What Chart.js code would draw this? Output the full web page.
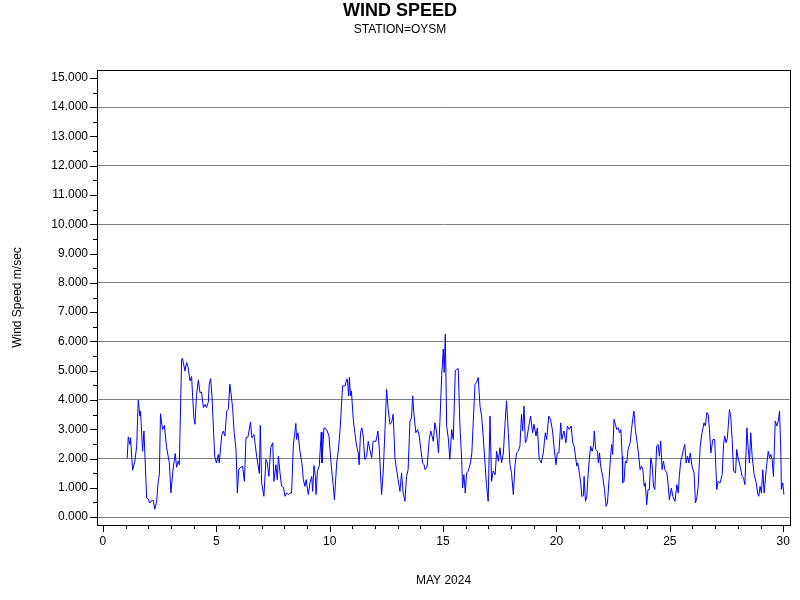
<!DOCTYPE html>
<html>
<head>
<meta charset="utf-8">
<script src="https://cdn.jsdelivr.net/npm/chart.js@4/dist/chart.umd.min.js"></script>
<style>
  html, body { margin: 0; padding: 0; background: #fff; }
  #wrap { width: 800px; height: 600px; }
</style>
</head>
<body>
<div id="wrap"><canvas id="chartWind"></canvas></div>
<script>
  // days of May 2024 (fractional) and wind speed in m/sec
  const days = [
    1.07, 1.12, 1.19, 1.22, 1.31, 1.41, 1.49, 1.56, 1.63, 1.66, 1.75, 1.81, 1.93, 2.0, 2.07, 2.15, 2.22, 2.29, 2.37, 2.44,
    2.49, 2.54, 2.63, 2.71, 2.81, 2.93, 3.0, 3.1, 3.19, 3.25, 3.32, 3.37, 3.47, 3.51, 3.62, 3.69, 3.76, 3.84, 3.91, 4.01,
    4.06, 4.13, 4.21, 4.28, 4.35, 4.43, 4.51, 4.57, 4.65, 4.69, 4.75, 4.81, 4.87, 4.93, 5.01, 5.09, 5.13, 5.24, 5.31, 5.38,
    5.46, 5.53, 5.6, 5.72, 5.79, 5.87, 5.93, 5.99, 6.04, 6.16, 6.24, 6.31, 6.4, 6.51, 6.57, 6.66, 6.78, 6.9, 6.94, 7.0,
    7.1, 7.19, 7.25, 7.32, 7.4, 7.49, 7.54, 7.63, 7.69, 7.74, 7.81, 7.88, 7.96, 8.03, 8.1, 8.18, 8.25, 8.32, 8.4, 8.51,
    8.54, 8.6, 8.69, 8.78, 8.84, 8.91, 8.96, 9.06, 9.13, 9.21, 9.25, 9.31, 9.37, 9.4, 9.46, 9.54, 9.63, 9.66, 9.75, 9.87,
    9.97, 10.06, 10.16, 10.21, 10.31, 10.38, 10.46, 10.57, 10.68, 10.75, 10.78, 10.84, 10.87,
    10.92, 10.96, 11.04, 11.11, 11.19, 11.26, 11.3, 11.36, 11.42, 11.48, 11.55, 11.63, 11.7, 11.77, 11.85, 11.92, 12.04, 12.13, 12.19, 12.29,
    12.36, 12.44, 12.51, 12.58, 12.66, 12.73, 12.8, 12.88, 12.95, 13.02, 13.1, 13.17, 13.24, 13.32, 13.39, 13.46, 13.54, 13.61, 13.66, 13.71,
    13.8, 13.88, 13.95, 14.04, 14.1, 14.16, 14.21, 14.3, 14.39, 14.46, 14.57, 14.64, 14.71, 14.8, 14.86, 14.94, 15.01, 15.05, 15.1, 15.16,
    15.23, 15.3, 15.38, 15.45, 15.54, 15.6, 15.67, 15.74, 15.82, 15.86, 15.92, 15.98, 16.04, 16.11, 16.21, 16.27, 16.33, 16.41, 16.48, 16.55,
    16.63, 16.7, 16.77, 16.85, 16.92, 16.99, 17.07, 17.14, 17.21, 17.3, 17.36, 17.44, 17.51, 17.58, 17.66, 17.74, 17.8, 17.88, 17.95, 18.02,
    18.1, 18.17, 18.24, 18.32, 18.39, 18.46, 18.51, 18.57, 18.63, 18.69, 18.77, 18.86, 18.95, 19.01, 19.1, 19.16, 19.24, 19.33, 19.42, 19.51,
    19.57, 19.66, 19.74, 19.83, 19.89, 19.98, 20.04, 20.11, 20.19, 20.24, 20.33, 20.42, 20.48, 20.57,
    20.65, 20.72, 20.78, 20.85, 20.9, 20.94, 21.01, 21.07, 21.12, 21.19, 21.22, 21.28, 21.34, 21.38, 21.45, 21.51, 21.57, 21.63, 21.67, 21.73,
    21.81, 21.85, 21.9, 21.95, 22.04, 22.12, 22.19, 22.25, 22.32, 22.4, 22.44, 22.48, 22.54, 22.6, 22.66, 22.73, 22.78, 22.84, 22.9, 22.92,
    22.98, 23.04, 23.1, 23.16, 23.25, 23.31, 23.37, 23.42, 23.48, 23.57, 23.63, 23.69, 23.75, 23.81, 23.87, 23.92, 23.98, 24.04, 24.1, 24.16,
    24.22, 24.28, 24.34, 24.42, 24.48, 24.54, 24.6, 24.66, 24.72, 24.78, 24.87, 24.92, 24.98, 25.07, 25.13, 25.23, 25.31, 25.37, 25.42, 25.48,
    25.54, 25.6, 25.66, 25.72, 25.78, 25.84, 25.9, 25.98, 26.07, 26.13, 26.19, 26.25, 26.34, 26.42, 26.51, 26.57, 26.63, 26.69, 26.75, 26.81,
    26.9, 26.98, 27.07, 27.13, 27.22, 27.31, 27.37, 27.42, 27.48, 27.54, 27.63, 27.69, 27.75, 27.81, 27.9, 27.95, 28.01, 28.1, 28.19, 28.25,
    28.31, 28.4, 28.45, 28.51, 28.57, 28.63, 28.72, 28.81, 28.87, 28.92, 28.98, 29.04, 29.1, 29.16, 29.25, 29.34, 29.4, 29.45, 29.51, 29.57,
    29.65, 29.72, 29.78, 29.84, 29.9, 29.92, 29.98, 30.03
  ];
  const speeds = [
    2.0, 2.74, 2.48, 2.71, 1.6, 1.91, 2.42, 3.99, 3.45, 3.62, 2.25, 2.94, 0.65, 0.62, 0.48, 0.57, 0.57, 0.27, 0.54, 1.22,
    1.45, 3.53, 2.99, 3.13, 2.37, 1.85, 0.82, 1.68, 2.17, 1.7, 1.91, 1.79, 5.39, 5.42, 4.99, 5.28, 5.11, 4.65, 4.8, 3.39,
    3.17, 4.19, 4.69, 4.25, 4.27, 3.74, 3.85, 3.74, 3.93, 4.54, 4.73, 4.14, 3.11, 2.08, 1.85, 2.14, 1.85, 2.79, 2.94, 2.77,
    3.62, 3.68, 4.54, 3.74, 2.88, 2.31, 0.82, 1.62, 1.68, 1.74, 1.22, 2.71, 2.74, 3.25, 2.71, 2.82, 2.08, 1.49, 3.13, 1.17,
    0.71, 1.97, 1.85, 1.39, 2.37, 2.54, 1.22, 1.79, 1.28, 2.08, 1.51, 1.05, 1.02, 0.71, 0.82, 0.77, 0.82, 0.82, 2.48, 3.2,
    2.65, 2.88, 2.25, 1.82, 1.28, 1.05, 1.28, 0.77, 1.17, 1.39, 0.88, 1.76, 1.39, 0.77, 1.57, 1.74, 2.9, 1.85, 3.05, 2.99,
    2.77, 1.85, 1.05, 0.59, 1.85, 2.25, 2.99, 4.48, 4.48, 4.71, 4.71, 4.14, 4.77,
    4.14, 4.31, 3.34, 2.88, 2.42, 2.19, 1.79, 2.88, 3.05, 2.77, 1.97, 2.08, 2.59, 2.31, 2.02, 2.59, 2.59, 2.94, 2.31, 0.77,
    1.51, 2.99, 4.37, 3.68, 3.17, 3.22, 3.51, 2.02, 1.62, 1.28, 0.88, 1.51, 0.82, 0.54, 1.39, 1.62, 3.28, 3.39, 4.14, 3.57,
    2.88, 2.99, 2.77, 2.19, 1.85, 1.79, 1.62, 1.74, 2.65, 2.94, 2.59, 3.22, 2.94, 2.19, 3.22, 4.83, 5.74, 4.94, 6.25, 3.11,
    2.71, 1.97, 2.99, 2.65, 4.99, 5.05, 5.07, 3.22, 1.97, 0.99, 1.45, 0.82, 1.51, 1.57, 1.85, 2.19, 3.22, 4.54, 4.59, 4.77,
    3.79, 3.45, 2.77, 1.85, 1.05, 0.54, 3.45, 1.22, 1.57, 1.45, 2.25, 1.91, 2.37, 1.85, 2.19, 3.28, 3.97, 2.88, 1.79, 1.51,
    0.77, 1.74, 2.19, 2.25, 2.42, 3.51, 2.94, 3.79, 2.54, 2.65, 3.05, 3.45, 2.88, 3.17, 2.77, 3.05, 1.97, 1.85, 2.19, 2.88,
    2.65, 3.45, 3.34, 2.94, 2.42, 1.79, 2.19, 2.19, 3.22, 2.65, 2.94, 2.54, 3.11, 2.99,
    3.11, 2.54, 2.42, 2.02, 1.74, 1.85, 1.51, 1.17, 0.71, 0.73, 1.39, 0.54, 0.71, 1.28, 1.97, 2.42, 2.25, 2.42, 2.94, 2.31,
    2.25, 1.85, 2.19, 1.74, 1.39, 0.94, 0.37, 0.48, 1.28, 2.19, 2.48, 2.14, 3.34, 3.17, 2.99, 3.05, 2.88, 2.99, 2.08, 1.17,
    1.22, 1.91, 1.85, 2.31, 2.54, 2.99, 3.39, 3.62, 2.99, 2.48, 2.08, 1.62, 1.74, 1.62, 1.05, 1.17, 0.42, 0.94, 0.94, 2.02,
    1.79, 1.05, 0.94, 2.42, 2.48, 2.08, 2.59, 1.62, 1.91, 1.62, 1.51, 1.17, 0.59, 0.99, 0.71, 0.54, 1.11, 0.82, 1.39, 1.91,
    2.08, 2.31, 2.48, 1.85, 2.08, 1.85, 2.19, 1.74, 1.51, 0.48, 0.65, 1.05, 2.42, 2.88, 3.22, 3.11, 3.57, 3.51, 2.99, 2.19,
    2.65, 2.65, 0.94, 1.22, 1.17, 1.45, 2.48, 2.77, 2.54, 2.71, 3.68, 3.39, 2.65, 1.57, 1.51, 2.31, 2.02, 1.74, 1.39, 1.34,
    1.11, 3.05, 2.42, 1.85, 2.88, 2.08, 1.45, 1.17, 0.82, 0.71, 1.05, 0.82, 1.62, 0.82, 1.62, 2.25, 2.02, 2.14, 1.97, 1.39,
    3.28, 3.11, 3.28, 3.62, 2.08, 0.94, 1.17, 0.77
  ];
  const xTickLabels = [0, 5, 10, 15, 20, 25, 30];
  const yTickLabels = [0, 1, 2, 3, 4, 5, 6, 7, 8, 9, 10, 11, 12, 13, 14, 15];

  const points = days.map((d, i) => ({ x: d, y: speeds[i] }));
  const FONT = "Arial, 'Liberation Sans', sans-serif";

  // titles, frame, axis ticks and axis titles
  const decor = {
    id: "decor",
    afterDraw(chart) {
      const ctx = chart.ctx;
      const a = chart.chartArea;
      const xs = chart.scales.x;
      const ys = chart.scales.y;
      ctx.save();
      ctx.strokeStyle = "#000";
      ctx.lineWidth = 1;
      ctx.strokeRect(a.left + 0.5, a.top + 0.5, a.right - a.left, a.bottom - a.top);

      ctx.beginPath();
      for (let d = 0; d <= 30; d++) {
        const px = Math.round(xs.getPixelForValue(d)) + 0.5;
        ctx.moveTo(px, a.bottom);
        ctx.lineTo(px, a.bottom + (d % 5 === 0 ? 7 : 4));
      }
      yTickLabels.forEach((v) => {
        const py = Math.round(ys.getPixelForValue(v)) + 0.5;
        ctx.moveTo(a.left, py);
        ctx.lineTo(a.left - 7, py);
      });
      for (let v = 0.5; v < 15.2; v += 1) {
        const py = Math.round(ys.getPixelForValue(v)) + 0.5;
        ctx.moveTo(a.left, py);
        ctx.lineTo(a.left - 4, py);
      }
      ctx.stroke();

      ctx.fillStyle = "#000";
      ctx.font = "12px " + FONT;
      ctx.textAlign = "center";
      ctx.textBaseline = "top";
      xTickLabels.forEach((d) => ctx.fillText(String(d), xs.getPixelForValue(d), a.bottom + 11));
      ctx.textAlign = "right";
      ctx.textBaseline = "middle";
      yTickLabels.forEach((v) => ctx.fillText(v.toFixed(3), a.left - 9, ys.getPixelForValue(v)));

      ctx.textAlign = "center";
      ctx.fillText("MAY 2024", (a.left + a.right) / 2, 581);
      ctx.save();
      ctx.translate(18, (a.top + a.bottom) / 2);
      ctx.rotate(-Math.PI / 2);
      ctx.fillText("Wind Speed m/sec", 0, 0);
      ctx.restore();

      ctx.font = "bold 18px " + FONT;
      ctx.fillText("WIND SPEED", 400, 11);
      ctx.font = "12px " + FONT;
      ctx.fillText("STATION=OYSM", 400, 30);
      ctx.restore();
    },
  };

  new Chart(document.getElementById("chartWind"), {
    type: "line",
    data: {
      datasets: [
        {
          data: points,
          borderColor: "#0000ff",
          borderWidth: 1,
          pointRadius: 0,
          tension: 0,
          fill: false,
        },
      ],
    },
    options: {
      responsive: true,
      maintainAspectRatio: false,
      animation: false,
      layout: { padding: { top: 70, right: 10, left: 0, bottom: 0 } },
      plugins: { legend: { display: false }, tooltip: { enabled: false } },
      scales: {
        x: {
          type: "linear",
          min: -0.26,
          max: 30.3,
          ticks: { display: false },
          grid: { display: false },
          border: { display: false },
          afterFit(s) { s.height = 75; },
        },
        y: {
          type: "linear",
          min: -0.27,
          max: 15.27,
          afterBuildTicks(s) {
            s.ticks = [0, 2, 4, 6, 8, 10, 12, 14].map((v) => ({ value: v }));
          },
          ticks: { display: false },
          grid: { color: "#808080", borderDash: [4, 4], drawTicks: false, lineWidth: 1 },
          border: { display: false },
          afterFit(s) { s.width = 97; },
        },
      },
    },
    plugins: [decor],
  });
</script>
</body>
</html>
